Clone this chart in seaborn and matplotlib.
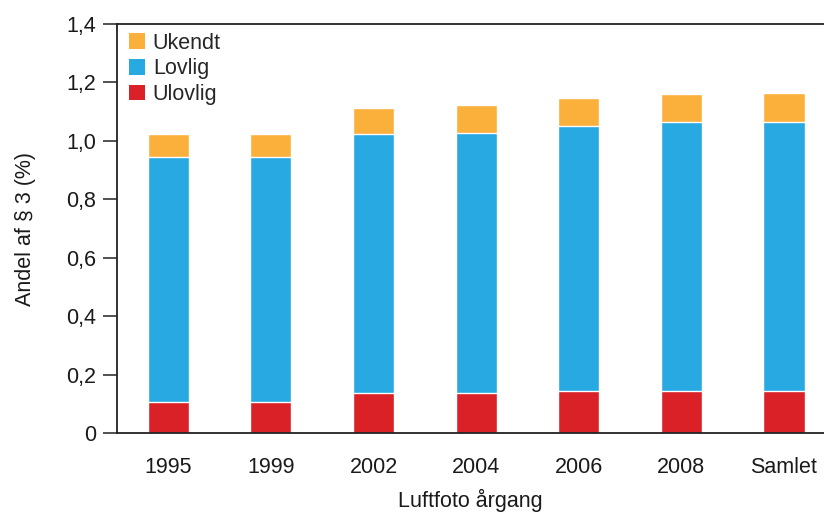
import matplotlib
matplotlib.use("Agg")
import matplotlib.pyplot as plt
import seaborn as sns
import pandas as pd
import numpy as np
from matplotlib.patches import Patch

categories = ["1995", "1999", "2002", "2004", "2006", "2008", "Samlet"]
ulovlig = [0.108, 0.108, 0.139, 0.139, 0.144, 0.144, 0.144]
lovlig = [0.838, 0.838, 0.884, 0.887, 0.907, 0.921, 0.921]
ukendt = [0.079, 0.079, 0.091, 0.097, 0.097, 0.095, 0.100]
yticks = [0, 0.2, 0.4, 0.6, 0.8, 1.0, 1.2, 1.4]
ytick_labels = ["0", "0,2", "0,4", "0,6", "0,8", "1,0", "1,2", "1,4"]

c_ukendt = "#FBB03B"
c_lovlig = "#29A9E1"
c_ulovlig = "#DA2128"

sns.set_theme(style="white")
plt.rcParams["font.family"] = ["Liberation Sans", "DejaVu Sans"]

df = pd.DataFrame({"cat": categories,
                   "ulovlig": ulovlig,
                   "lovlig": lovlig,
                   "ukendt": ukendt})
df["top_lovlig"] = df["ulovlig"] + df["lovlig"]
df["top_ukendt"] = df["top_lovlig"] + df["ukendt"]

fig = plt.figure(figsize=(8.24, 5.15), dpi=100)
ax = fig.add_axes([117 / 824, 1 - 433.3 / 515, 1 - 117 / 824, (433.3 - 24) / 515])

for col, color in [("top_ukendt", c_ukendt), ("top_lovlig", c_lovlig), ("ulovlig", c_ulovlig)]:
    sns.barplot(data=df, x="cat", y=col, color=color, width=0.4, ax=ax,
                edgecolor="white", linewidth=1.0, saturation=1, errorbar=None)

fs = 15.5
ax.set_xlim(-0.5, 6.39)
ax.set_ylim(0, 1.4)
ax.set_yticks(yticks)
ax.set_yticklabels(ytick_labels, fontsize=fs, color="#1a1a1a")

ax.set_xticks(range(len(categories)))
ax.set_xticklabels(categories, fontsize=fs, color="#1a1a1a")
ax.set_xticks(np.arange(-0.5, 6.0, 1.0), minor=True)
ax.tick_params(axis="x", which="major", length=0, pad=17)
ax.tick_params(axis="x", which="minor", length=10, width=1.1, color="#222222", direction="out")
ax.tick_params(axis="y", which="major", length=10, width=1.1, color="#222222", direction="out", pad=5, left=True)

for s in ["left", "bottom", "top"]:
    ax.spines[s].set_visible(True)
    ax.spines[s].set_color("#222222")
    ax.spines[s].set_linewidth(1.3)
ax.spines["right"].set_visible(False)

ax.set_xlabel("Luftfoto årgang", fontsize=fs, color="#1a1a1a", labelpad=8)
ax.set_ylabel("Andel af § 3 (%)", fontsize=fs, color="#1a1a1a", labelpad=22)

handles = [Patch(facecolor=c_ukendt, edgecolor="none", label="Ukendt"),
           Patch(facecolor=c_lovlig, edgecolor="none", label="Lovlig"),
           Patch(facecolor=c_ulovlig, edgecolor="none", label="Ulovlig")]
ax.legend(handles=handles, loc="upper left", frameon=False, fontsize=fs,
          handlelength=0.75, handleheight=0.75, handletextpad=0.35,
          labelspacing=0.22, borderaxespad=0.0, bbox_to_anchor=(0.005, 1.0))

fig.savefig("out.png", dpi=100)
